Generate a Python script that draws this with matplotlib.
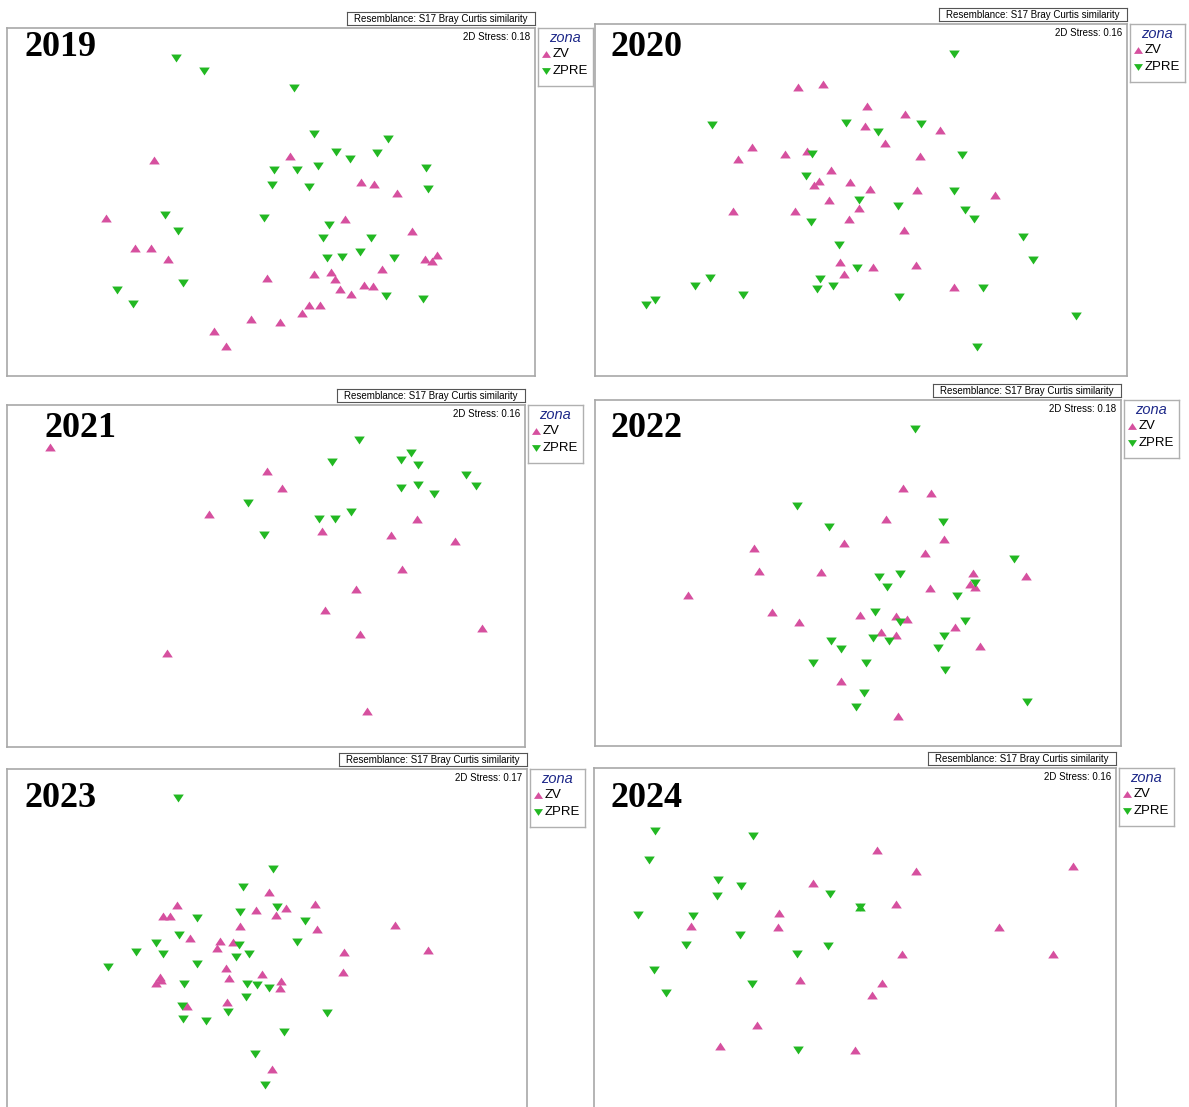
import matplotlib
matplotlib.use("Agg")
import matplotlib.pyplot as plt

plt.rcParams["font.family"] = ["Liberation Sans", "DejaVu Sans"]

years = ["2019", "2020", "2021", "2022", "2023", "2024"]
stress = [0.18, 0.16, 0.16, 0.18, 0.17, 0.16]

# nMDS scores per year (screen units, y grows downward)
zv_2019 = [(447, 420), (842, 408), (1048, 488), (1086, 493), (1154, 520), (309, 594),
           (1002, 596), (1197, 633), (392, 683), (440, 683), (489, 718), (1233, 716),
           (1254, 722), (1268, 705), (1109, 748), (913, 762), (962, 757), (973, 778),
           (777, 774), (988, 806), (1058, 795), (1083, 798), (1020, 823), (899, 855),
           (931, 855), (876, 878), (730, 897), (815, 906), (623, 934), (656, 978)]
zpre_2019 = [(512, 115), (594, 153), (854, 205), (913, 342), (1126, 358), (976, 397),
             (1017, 418), (1096, 400), (797, 450), (862, 450), (925, 440), (1237, 445),
             (791, 495), (899, 502), (1243, 508), (479, 585), (767, 595), (518, 632),
             (957, 615), (938, 655), (1077, 653), (1046, 697), (951, 713), (994, 712),
             (1145, 713), (533, 788), (341, 810), (387, 853), (1121, 829), (1228, 838)]

zv_2020 = [(614, 205), (689, 196), (818, 262), (933, 285), (813, 323), (1035, 335),
           (871, 372), (478, 384), (437, 421), (577, 405), (641, 398), (977, 412),
           (712, 454), (677, 487), (663, 497), (770, 489), (829, 511), (968, 513),
           (1197, 527), (708, 542), (795, 568), (424, 577), (605, 575), (767, 600),
           (928, 631), (740, 729), (838, 742), (964, 736), (751, 765), (1077, 803)]
zpre_2020 = [(1077, 107), (361, 318), (757, 314), (980, 315), (852, 341), (657, 406),
             (1099, 410), (640, 471), (1076, 516), (796, 542), (911, 561), (1108, 574),
             (1136, 600), (655, 610), (1280, 652), (737, 676), (1310, 721), (790, 745),
             (355, 777), (312, 800), (679, 779), (672, 808), (718, 800), (453, 827),
             (1161, 805), (915, 833), (193, 842), (165, 855), (1437, 890), (1144, 982)]

zv_2021 = [(150, 185), (790, 255), (836, 306), (619, 386), (955, 437), (1236, 399),
           (1157, 448), (1349, 467), (1191, 549), (1055, 610), (964, 673), (1066, 746),
           (1427, 728), (496, 804), (1087, 978)]
zpre_2021 = [(1064, 163), (983, 229), (1188, 224), (1218, 203), (1238, 237), (1381, 267),
             (1410, 302), (1187, 308), (1237, 299), (1285, 325), (735, 351), (944, 400),
             (993, 401), (1041, 378), (784, 447)]

zv_2022 = [(927, 310), (1010, 325), (876, 401), (1048, 462), (752, 473), (486, 488),
           (992, 505), (501, 559), (685, 561), (1133, 563), (1290, 572), (1124, 597),
           (1140, 605), (1007, 608), (290, 629), (538, 680), (619, 711), (799, 689),
           (905, 694), (938, 703), (860, 740), (905, 750), (1080, 727), (1154, 784),
           (743, 887), (910, 994)]
zpre_2022 = [(963, 133), (614, 363), (708, 425), (1044, 411), (1253, 521), (855, 575),
             (918, 566), (879, 607), (1140, 595), (1087, 633), (842, 682), (918, 710),
             (1110, 707), (837, 760), (884, 767), (713, 769), (744, 791), (1046, 753),
             (1031, 788), (660, 835), (818, 835), (1050, 855), (811, 925), (788, 967),
             (1292, 952)]

zv_2023 = [(797, 412), (525, 450), (482, 483), (503, 482), (759, 466), (818, 479),
           (848, 458), (932, 448), (712, 513), (938, 522), (563, 548), (652, 557),
           (689, 562), (644, 580), (1168, 510), (1265, 586), (1019, 592), (1015, 650),
           (670, 638), (679, 668), (775, 656), (832, 678), (830, 700), (474, 666),
           (462, 684), (478, 676), (553, 752), (671, 740), (804, 943)]
zpre_2023 = [(528, 130), (808, 342), (719, 396), (712, 470), (819, 456), (584, 488),
             (903, 499), (530, 541), (463, 565), (483, 597), (402, 591), (878, 561),
             (708, 570), (737, 597), (700, 607), (585, 627), (320, 637), (545, 688),
             (731, 687), (760, 689), (797, 700), (728, 726), (540, 752), (543, 791),
             (611, 797), (676, 771), (967, 773), (842, 832), (756, 898), (784, 989)]

zv_2024 = [(752, 287), (854, 348), (1265, 335), (586, 384), (803, 448), (495, 474),
           (266, 513), (494, 517), (1072, 516), (817, 596), (1212, 598), (552, 676),
           (765, 683), (739, 721), (438, 810), (342, 872), (694, 886)]
zpre_2024 = [(172, 228), (429, 243), (156, 317), (336, 377), (397, 395), (335, 425),
             (630, 418), (127, 482), (271, 484), (394, 540), (252, 569), (542, 596),
             (625, 573), (169, 646), (201, 714), (426, 688), (547, 884)]
tie_2024 = [(708, 456)]

zv_sets = [zv_2019, zv_2020, zv_2021, zv_2022, zv_2023, zv_2024]
zpre_sets = [zpre_2019, zpre_2020, zpre_2021, zpre_2022, zpre_2023, zpre_2024]

PINK = "#d6509f"
GREEN = "#22b822"
W, H = 1189, 1107

# flattened triangles as drawn by PRIMER
UP = [(-1, -0.75), (1, -0.75), (0, 0.75), (-1, -0.75)]
DOWN = [(-1, 0.75), (1, 0.75), (0, -0.75), (-1, 0.75)]

# panel frames in pixels (left, top, right, bottom) and ordination extents
frames = [(7, 28, 535, 376), (595, 24, 1127, 376), (7, 405, 525, 747),
          (595, 400, 1121, 746), (7, 769, 527, 1116), (594, 768, 1116, 1116)]
extents = [(22, 1553, 25, 1068), (15, 1588, 18, 1068), (22, 1555, 58, 1085),
           (15, 1571, 45, 1083), (22, 1559, 42, 1083), (12, 1378, 40, 1083)]
year_pos = [(17, 28), (16, 32), (38, 32), (16, 37), (17, 38), (17, 39)]


def px_axes(fig, l, t, r, b):
    return fig.add_axes([l / W, 1 - b / H, (r - l) / W, (b - t) / H])


def frame_box(ax, color, lw):
    ax.set_xticks([])
    ax.set_yticks([])
    for sp in ax.spines.values():
        sp.set_color(color)
        sp.set_linewidth(lw)


fig = plt.figure(figsize=(W / 100, H / 100), dpi=100)

for i, year in enumerate(years):
    l, t, r, b = frames[i]
    x0, x1, y0, y1 = extents[i]
    ax = px_axes(fig, l, t, r, b)
    frame_box(ax, "#a8a8a8", 1.2)
    ax.set_xlim(x0, x1)
    ax.set_ylim(y1, y0)

    zx = [p[0] for p in zv_sets[i]]
    zy = [p[1] for p in zv_sets[i]]
    gx = [p[0] for p in zpre_sets[i]]
    gy = [p[1] for p in zpre_sets[i]]
    ax.scatter(zx, zy, marker=UP, s=58, color=PINK, linewidths=0, zorder=3)
    ax.scatter(gx, gy, marker=DOWN, s=58, color=GREEN, linewidths=0, zorder=4)
    if year == "2024":
        tx = [p[0] for p in tie_2024]
        ty = [p[1] for p in tie_2024]
        ax.scatter(tx, ty, marker=UP, s=58, color=GREEN, linewidths=0, zorder=4)
        ax.scatter(tx, ty, marker=DOWN, s=58, color=GREEN, linewidths=0, zorder=4)

    # year label
    dx, dy = year_pos[i]
    fig.text((l + dx) / W, 1 - (t + dy) / H, year, family="Liberation Serif",
             fontweight="bold", fontsize=26, ha="left", va="baseline")

    ax.text(1 - 5 / (r - l), 1 - 4 / (b - t), "2D Stress: %.2f" % stress[i],
            transform=ax.transAxes, ha="right", va="top", fontsize=7)

    # resemblance caption box above the frame
    cap = px_axes(fig, r - 188, t - 16, r, t - 3)
    frame_box(cap, "#555555", 0.8)
    cap.text(0.5, 0.45, "Resemblance: S17 Bray Curtis similarity",
             transform=cap.transAxes, ha="center", va="center", fontsize=7)

    # legend box
    L = r + 3
    leg = px_axes(fig, L, t, L + 55, t + 58)
    frame_box(leg, "#b0b0b0", 1.0)
    leg.set_xlim(0, 55)
    leg.set_ylim(58, 0)
    leg.text(27, 10, "zona", style="italic", fontsize=10.5, color="#1f2a8a",
             ha="center", va="center")
    leg.scatter([8], [26], marker=UP, s=42, color=PINK, linewidths=0)
    leg.text(15, 26, "ZV", fontsize=9.5, ha="left", va="center")
    leg.scatter([8], [43], marker=DOWN, s=42, color=GREEN, linewidths=0)
    leg.text(15, 43, "ZPRE", fontsize=9.5, ha="left", va="center")

fig.savefig("out.png", dpi=100)
